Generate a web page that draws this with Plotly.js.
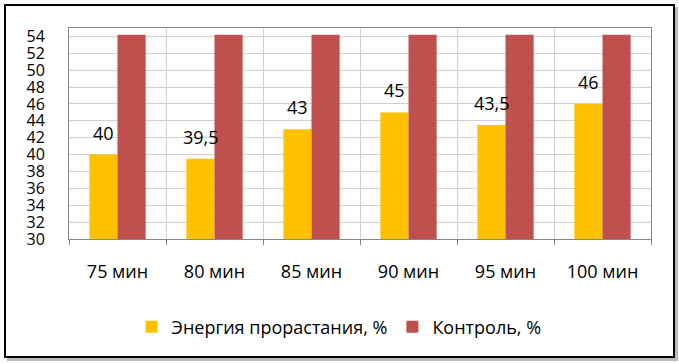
<!DOCTYPE html>
<html>
<head>
<meta charset="utf-8">
<script src="https://cdn.plot.ly/plotly-3.0.1.min.js"></script>
<style>
  html, body { margin: 0; padding: 0; background: #fff; }
  #wrap { position: relative; width: 679px; height: 364px; overflow: hidden; }
  #frame { position: absolute; left: 4px; top: 4px; width: 667px; height: 350px; border: 2px solid #000; box-shadow: 3px 3px 0 #bbb; pointer-events: none; z-index: 5; }
  #chart { position: absolute; left: 0; top: 0; width: 679px; height: 364px; }
</style>
</head>
<body>
<div id="wrap">
  <div id="chart"></div>
  <div id="frame"></div>
</div>
<script>
const categories = ['75 мин', '80 мин', '85 мин', '90 мин', '95 мин', '100 мин'];
const energyValues = [40, 39.5, 43, 45, 43.5, 46];
const energyLabels = ['40', '39,5', '43', '45', '43,5', '46'];
const controlValues = [54.2, 54.2, 54.2, 54.2, 54.2, 54.2];
const seriesNames = ['Энергия прорастания, %', 'Контроль, %'];
const yTicks = [30, 32, 34, 36, 38, 40, 42, 44, 46, 48, 50, 52, 54];

const font = 'Open Sans, sans-serif';

const traces = [
  { type: 'bar', x: categories, y: energyValues, name: seriesNames[0],
    marker: { color: '#FFC000' }, hoverinfo: 'none' },
  { type: 'bar', x: categories, y: controlValues, name: seriesNames[1],
    marker: { color: '#C0504D' }, hoverinfo: 'none' }
];

const annotations = categories.map((c, i) => ({
  x: c, y: energyValues[i], xref: 'x', yref: 'y',
  text: energyLabels[i], showarrow: false,
  yanchor: 'bottom', xanchor: 'center', xshift: -14, yshift: 8,
  font: { family: font, size: 18, color: '#000' }
}));

const layout = {
  width: 679, height: 364,
  margin: { l: 69, r: 28, t: 28, b: 125 },
  paper_bgcolor: '#fff', plot_bgcolor: '#fff',
  barmode: 'group', bargap: 0.42, bargroupgap: 0,
  showlegend: true,
  legend: { orientation: 'h', x: 0.464, xanchor: 'center', y: -0.417, yanchor: 'middle',
            font: { family: font, size: 18, color: '#000' }, itemwidth: 30, traceorder: 'normal' },
  xaxis: {
    type: 'category', tickson: 'boundaries',
    showgrid: true, gridcolor: '#d0d0d0', gridwidth: 1,
    showline: true, linecolor: '#868686', linewidth: 1, mirror: true,
    ticks: 'outside', ticklen: 5, tickcolor: '#868686',
    tickfont: { family: font, size: 18, color: '#000' },
    ticklabelstandoff: 16
  },
  yaxis: {
    range: [30, 55], tickvals: yTicks, ticktext: yTicks.map(String),
    showgrid: true, gridcolor: '#d0d0d0', gridwidth: 1,
    showline: true, linecolor: '#868686', linewidth: 1, mirror: true,
    ticks: '', zeroline: false,
    tickfont: { family: font, size: 16, color: '#000' },
    ticklabelstandoff: 20
  },
  annotations: annotations,
  font: { family: font }
};

Plotly.newPlot('chart', traces, layout, { displayModeBar: false, staticPlot: true });
</script>
</body>
</html>
